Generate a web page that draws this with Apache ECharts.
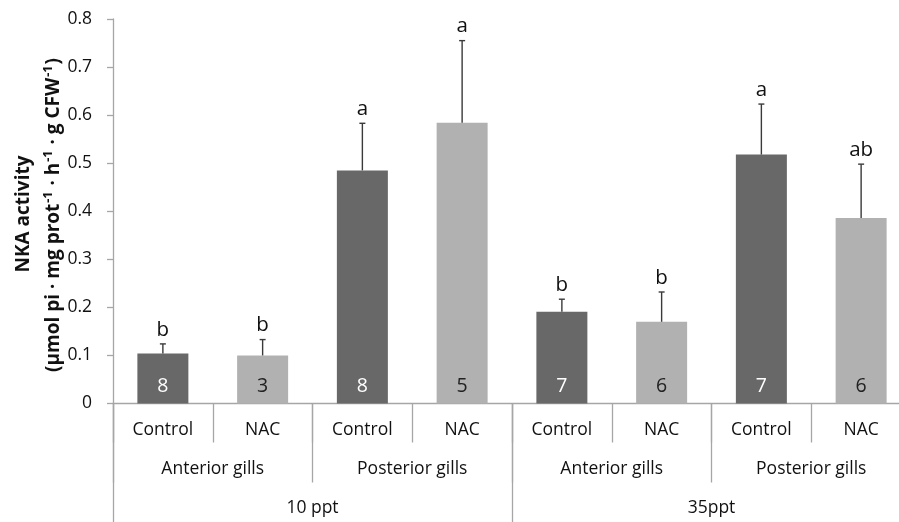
<!DOCTYPE html>
<html>
<head>
<meta charset="utf-8">
<script src="https://cdn.jsdelivr.net/npm/echarts@6/dist/echarts.min.js"></script>
<style>
html,body{margin:0;padding:0;background:#fff;}
#chart{width:899px;height:522px;}
</style>
</head>
<body>
<div id="chart"></div>
<script>
// ---- data ----
var categories = ['Control', 'NAC', 'Control', 'NAC', 'Control', 'NAC', 'Control', 'NAC'];
var gillGroups = ['Anterior gills', 'Posterior gills', 'Anterior gills', 'Posterior gills'];
var salinities = ['10 ppt', '35ppt'];
var means = [0.104, 0.100, 0.485, 0.584, 0.191, 0.170, 0.518, 0.386];
var errors = [0.020, 0.033, 0.098, 0.171, 0.026, 0.062, 0.105, 0.112];
var letters = ['b', 'b', 'a', 'a', 'b', 'b', 'a', 'ab'];
var nValues = [8, 3, 8, 5, 7, 6, 7, 6];
var yTicks = [0, 0.1, 0.2, 0.3, 0.4, 0.5, 0.6, 0.7, 0.8];

var FONT = '"Open Sans", "Noto Sans", sans-serif';
var DARK = '#686868', LIGHT = '#b1b1b1', AXIS = '#a6a6a6';

var chart = echarts.init(document.getElementById('chart'));

var barData = means.map(function (v, i) {
  var dark = i % 2 === 0;
  return {
    value: v,
    itemStyle: { color: dark ? DARK : LIGHT },
    label: { color: dark ? '#ffffff' : '#222222' }
  };
});

var errData = means.map(function (v, i) { return [i, v, v + errors[i], letters[i]]; });

var option = {
  backgroundColor: '#ffffff',
  animation: false,
  grid: { left: 113, width: 798, top: 19, bottom: 118.5, containLabel: false, outerBoundsMode: 'none' },
  xAxis: [
    {
      type: 'category', data: categories, position: 'bottom',
      axisLine: { show: true, lineStyle: { color: AXIS, width: 1.3 } },
      axisTick: { show: true, length: 39, lineStyle: { color: AXIS, width: 1.3 } },
      axisLabel: { color: '#111', fontSize: 17.5, fontFamily: FONT, margin: 18 }
    },
    {
      type: 'category', data: gillGroups, position: 'bottom', gridIndex: 0,
      axisLine: { show: false },
      axisTick: { show: true, length: 79, lineStyle: { color: AXIS, width: 1.3 } },
      axisLabel: { color: '#111', fontSize: 17.5, fontFamily: FONT, margin: 57 }
    },
    {
      type: 'category', data: salinities, position: 'bottom', gridIndex: 0,
      axisLine: { show: false },
      axisTick: { show: true, length: 125, lineStyle: { color: AXIS, width: 1.3 } },
      axisLabel: { color: '#111', fontSize: 17.5, fontFamily: FONT, margin: 96 }
    }
  ],
  yAxis: {
    type: 'value', min: 0, max: 0.8, interval: 0.1,
    axisLine: { show: true, lineStyle: { color: AXIS, width: 1.3 } },
    axisTick: { show: true, length: 6, inside: false, lineStyle: { color: AXIS, width: 1.3 } },
    axisLabel: {
      color: '#111', fontSize: 17.5, fontFamily: FONT, margin: 21,
      formatter: function (v) {
        var t = yTicks.filter(function (k) { return Math.abs(k - v) < 1e-9; })[0];
        return t === 0 ? '0' : String(t);
      }
    },
    splitLine: { show: false }
  },
  graphic: [
    {
      type: 'text', x: 24, y: 214, rotation: Math.PI / 2,
      style: {
        text: 'NKA activity', fill: '#111',
        font: 'bold 19px ' + FONT, align: 'center', verticalAlign: 'middle'
      }
    },
    {
      type: 'text', x: 52, y: 215, rotation: Math.PI / 2,
      style: {
        text: '{b|(µmol pi · mg prot}{s|-1}{b| · h}{s|-1}{b| · g CFW}{s|-1}{b|)}',
        align: 'center', verticalAlign: 'middle', fill: '#111',
        rich: {
          b: { fontSize: 19, fontWeight: 'bold', fontFamily: FONT, fill: '#111', lineHeight: 22, verticalAlign: 'bottom' },
          s: { fontSize: 12.5, fontWeight: 'bold', fontFamily: FONT, fill: '#111', lineHeight: 22, verticalAlign: 'top', padding: [1, 1, 0, 1] }
        }
      }
    }
  ],
  series: [
    {
      type: 'bar', xAxisIndex: 0, data: barData, barWidth: 51,
      label: {
        show: true, position: 'insideBottom', distance: 7,
        fontSize: 19.5, fontFamily: FONT,
        formatter: function (p) { return String(nValues[p.dataIndex]); }
      }
    },
    {
      type: 'custom', xAxisIndex: 0, data: errData, z: 5,
      renderItem: function (params, api) {
        var x = api.coord([api.value(0), api.value(1)]);
        var top = api.coord([api.value(0), api.value(2)]);
        var lbl = letters[params.dataIndex];
        return {
          type: 'group',
          children: [
            { type: 'line', shape: { x1: x[0], y1: x[1], x2: top[0], y2: top[1] }, style: { stroke: '#3a3a3a', lineWidth: 1.4 } },
            { type: 'line', shape: { x1: top[0] - 3, y1: top[1], x2: top[0] + 3, y2: top[1] }, style: { stroke: '#3a3a3a', lineWidth: 1.4 } },
            { type: 'text', x: top[0], y: top[1] - 14, style: { text: lbl, font: '20.5px ' + FONT, fill: '#111', align: 'center', verticalAlign: 'middle' } }
          ]
        };
      }
    }
  ]
};
chart.setOption(option);
</script>
</body>
</html>
